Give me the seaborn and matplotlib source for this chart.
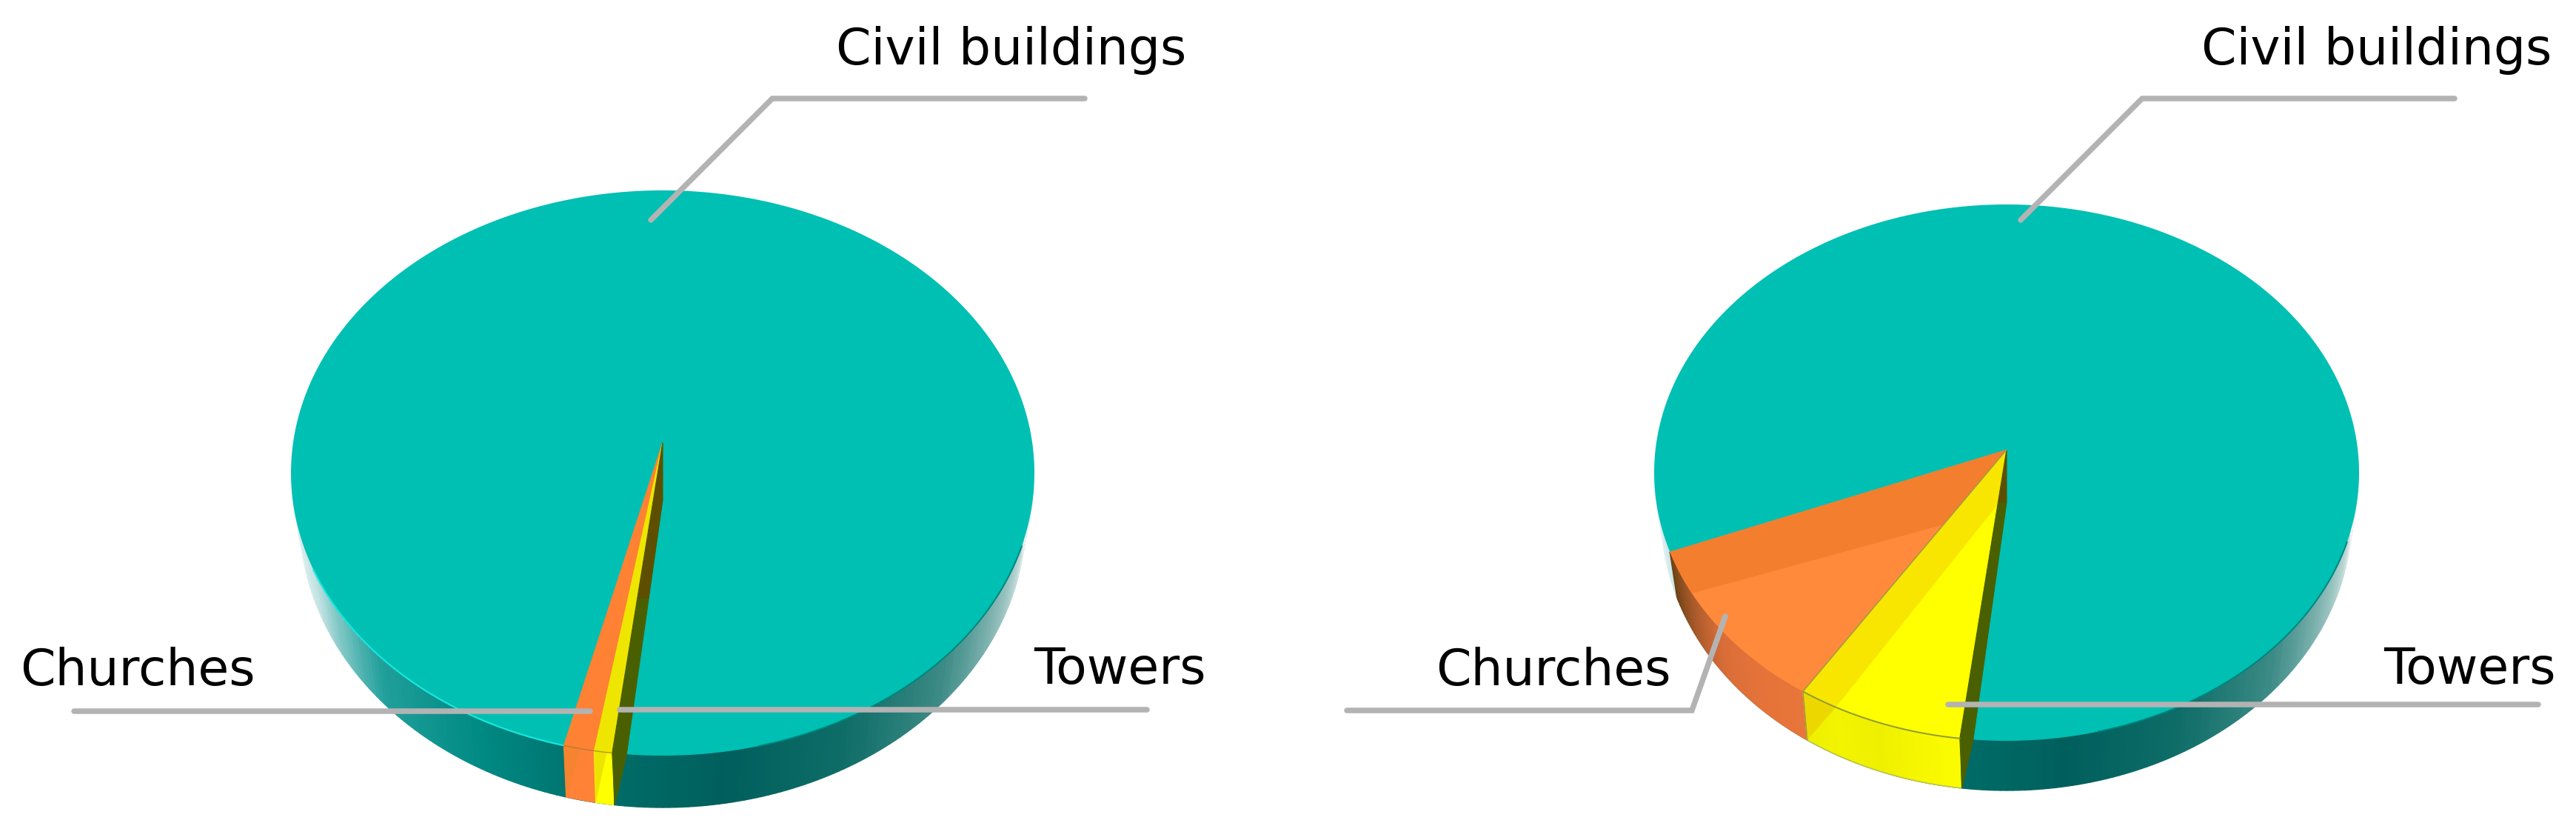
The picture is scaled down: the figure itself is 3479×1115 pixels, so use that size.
import numpy as np
import matplotlib
matplotlib.use("Agg")
import matplotlib.pyplot as plt
from matplotlib.patches import Polygon
import seaborn as sns

categories = ["Towers", "Churches", "Civil buildings"]
values_left = [0.7, 1.2, 98.1]
values_right = [7.1, 9.9, 83.0]

sns.set_theme(style="white")
plt.rcParams["font.family"] = ["DejaVu Sans"]

TEAL = "#00bfb3"
LINE = "#b3b3b3"
START = 263.0
GAP = 2.0

fig = plt.figure(figsize=(34.79, 11.15), dpi=100)
ax = fig.add_axes([0, 0, 1, 1])
ax.set_xlim(0, 3479)
ax.set_ylim(1115, 0)
ax.axis("off")

wall_pal = sns.blend_palette(["#ffffff", "#c2e3e3", "#22a09b", "#008a84", "#006e69", "#005f5c",
                              "#0f6d68", "#3d8b86", "#9cc5c2", "#ffffff"], 180)


class Pie:
    def __init__(self, cx, cy, rx, ry, apex_y, cyb, rxb, ryb, apex_depth):
        self.cx, self.cy, self.rx, self.ry = cx, cy, rx, ry
        self.a = (cy - apex_y) / ry
        self.cyb, self.rxb, self.ryb = cyb, rxb, ryb
        self.apex = (cx, apex_y)
        self.apex_low = (cx, apex_y + apex_depth)

    def norm(self, deg):
        t = np.radians(deg)
        c, s = np.cos(t), np.sin(t)
        d = 1 + self.a * s
        return c * np.sqrt(1 - self.a ** 2) / d, (s + self.a) / d

    def top(self, deg):
        x, y = self.norm(deg)
        return self.cx + self.rx * x, self.cy - self.ry * y

    def bottom(self, deg):
        x, y = self.norm(deg)
        return self.cx + self.rxb * x, self.cyb - self.ryb * y

    def arc_top(self, a0, a1, n=40):
        return [self.top(d) for d in np.linspace(a0, a1, n)]

    def arc_bottom(self, a0, a1, n=40):
        return [self.bottom(d) for d in np.linspace(a0, a1, n)]

    def along(self, deg, frac):
        p = self.top(deg)
        return self.apex[0] + (p[0] - self.apex[0]) * frac, self.apex[1] + (p[1] - self.apex[1]) * frac


def poly(pts, color, z, clip=None, **kw):
    p = Polygon(pts, closed=True, facecolor=color, edgecolor=kw.pop("ec", color),
                lw=kw.pop("lw", 0.8), zorder=z, **kw)
    ax.add_patch(p)
    if clip is not None:
        p.set_clip_path(clip)
    return p


def strips(pie, a0, a1, palette, z):
    n = len(palette)
    edges = np.linspace(a0, a1, n + 1)
    for i in range(n):
        pts = [pie.top(edges[i]), pie.top(edges[i + 1]), pie.bottom(edges[i + 1]), pie.bottom(edges[i])]
        poly(pts, palette[i], z, lw=1.0)


def draw_disc(pie):
    t = np.radians(np.arange(180, 360, 1.0))
    for i in range(len(t)):
        t0, t1 = t[i], t[i] + np.radians(1.0)
        pts = [(pie.cx + pie.rx * np.cos(t0), pie.cy - pie.ry * np.sin(t0)),
               (pie.cx + pie.rx * np.cos(t1), pie.cy - pie.ry * np.sin(t1)),
               (pie.cx + pie.rxb * np.cos(t1), pie.cyb - pie.ryb * np.sin(t1)),
               (pie.cx + pie.rxb * np.cos(t0), pie.cyb - pie.ryb * np.sin(t0))]
        poly(pts, wall_pal[i], 1, lw=1.0)
    tt = np.linspace(0, 2 * np.pi, 500)
    ell = np.c_[pie.cx + pie.rx * np.cos(tt), pie.cy - pie.ry * np.sin(tt)]
    poly(ell, TEAL, 2, lw=0)
    ta = np.radians(np.linspace(200, 256, 100))
    ax.plot(pie.cx + pie.rx * np.cos(ta), pie.cy - pie.ry * np.sin(ta), color="#18e6dc", lw=1.6, zorder=2.5)
    tb = np.radians(np.linspace(285, 345, 120))
    ax.plot(pie.cx + pie.rx * np.cos(tb), pie.cy - pie.ry * np.sin(tb), color="#00857c", lw=1.4, zorder=2.5)


def draw_olive(pie, brown_frac):
    a = START + GAP
    pts = [pie.apex, pie.apex_low, pie.top(a), pie.bottom(START + 0.2), pie.top(START)]
    clip = poly(pts, "#4a6000", 5)
    ax_y = pie.apex[1] + (pie.top(START)[1] - pie.apex[1]) * brown_frac
    poly([(pie.cx - 400, pie.apex[1] - 5), (pie.cx + 5, pie.apex[1] - 5), (pie.cx + 5, ax_y),
          (pie.cx - 400, ax_y)], "#5e4f00", 5.1, clip=clip)


def draw_left(pie, vals):
    towers, churches = [v * 3.6 for v in vals[:2]]
    a_t = START - towers
    a_c = a_t - churches
    draw_disc(pie)
    strips(pie, a_c, a_t, ["#ff8236"], 3)
    poly([pie.top(a_c), pie.bottom(a_c), pie.top(a_c + churches * 0.55)], "#f5842f", 3.2, lw=0)
    strips(pie, a_t, START, ["#ffff00"], 3)
    poly([pie.top(a_t), pie.bottom(a_t), pie.top(a_t + towers * 0.7)], "#ece400", 3.2, lw=0)
    poly([pie.apex] + pie.arc_top(a_c, a_t), "#ff8133", 4)
    poly([pie.apex] + pie.arc_top(a_t, START), "#eee600", 4)
    draw_olive(pie, 0.5)
    ax.plot(*zip(*pie.arc_top(a_c, START)), color="#9a7a30", lw=1.0, alpha=0.7, zorder=6)


def draw_right(pie, vals):
    towers, churches = [v * 3.6 for v in vals[:2]]
    a_t = START - towers
    a_c = a_t - churches
    draw_disc(pie)
    strips(pie, a_c, a_t, sns.blend_palette(["#6d4215", "#a8592a", "#d96d38", "#e57339", "#e87539"], 60), 3)
    strips(pie, a_t, START, sns.blend_palette(["#eef000", "#f2f400", "#eef000", "#f6f600", "#fbfb00"], 40), 3)
    poly([pie.top(a_t), pie.bottom(a_t), pie.top(a_t + towers * 0.23)], "#ecd800", 3.2, lw=0)
    # orange top, with a darker band at the back of the slice
    poly([pie.apex] + pie.arc_top(a_c, a_t), "#ff8a3c", 4, lw=0)
    inner = pie.arc_top(a_c, a_c + churches * 0.26, 12)
    poly([pie.apex] + inner + [pie.along(a_t, 0.31)], "#f37e2e", 4.1, lw=0)
    # yellow top, with a darker band along the orange slice
    poly([pie.apex] + pie.arc_top(a_t, START), "#ffff00", 4, lw=0)
    inner2 = pie.arc_top(a_t, a_t + towers * 0.23, 10)
    poly([pie.apex] + inner2 + [pie.along(START, 0.19)], "#f9e600", 4.1, lw=0)
    draw_olive(pie, 0.18)
    ax.plot(*zip(*pie.arc_top(a_t, START)), color="#8f9a30", lw=1.4, zorder=6)
    ax.plot(*zip(*pie.arc_bottom(a_t, START)), color="#b9bf50", lw=1.0, zorder=6)
    ax.plot([pie.apex[0], pie.top(a_t)[0]], [pie.apex[1], pie.top(a_t)[1]], color="#a89a40", lw=1.2, zorder=6)
    ax.plot([pie.top(a_t)[0], pie.bottom(a_t)[0]], [pie.top(a_t)[1], pie.bottom(a_t)[1]], color="#a89a40", lw=1.2, zorder=6)


left_pie = Pie(895, 638.5, 502, 381.5, 597, 700, 490, 390, 78)
right_pie = Pie(2710, 638, 476, 362, 607, 697, 466, 370, 71)
draw_left(left_pie, values_left)
draw_right(right_pie, values_right)

leaders = [
    [(879, 297), (1043, 133), (1465, 133)],
    [(100, 960), (797, 960)],
    [(837, 958), (1549, 958)],
    [(2729, 297), (2893, 133), (3315, 133)],
    [(1819, 959), (2285, 959), (2330, 832)],
    [(2631, 951), (3428, 951)],
]
for pts in leaders:
    ax.plot(*zip(*pts), color=LINE, lw=5.4, solid_capstyle="round", solid_joinstyle="miter", zorder=8)

FS = 49
labels = [
    (1129, 87, "Civil buildings"), (27, 925, "Churches"), (1396, 923, "Towers"),
    (2973, 87, "Civil buildings"), (1939, 925, "Churches"), (3219, 923, "Towers"),
]
for x, y, s in labels:
    ax.text(x, y, s, fontsize=FS, color="black", ha="left", va="baseline", zorder=9)

fig.savefig("out.png", dpi=100, facecolor="white")
